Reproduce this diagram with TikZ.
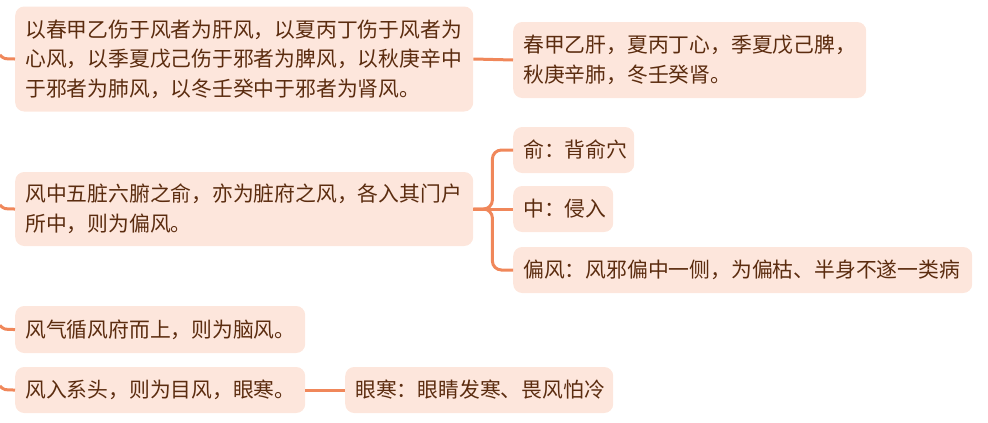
\documentclass[tikz,border=0pt]{standalone}
\usepackage{fontspec}
\setmainfont{Noto Sans CJK SC}
\definecolor{boxfill}{HTML}{FDE6DC}
\definecolor{txt}{HTML}{5B2C0F}
\definecolor{linec}{HTML}{F0875A}
\tikzset{
  box/.style={draw=none, fill=boxfill, rounded corners=9pt, text=txt,
    font=\fontsize{20.8}{29}\selectfont, align=left, inner xsep=10pt, inner ysep=0pt, anchor=west,
    execute at begin node={\baselineskip=29.5pt\lineskiplimit=-40pt\lineskip=0pt}},
  link/.style={draw=linec, line width=3pt, rounded corners=9pt},
  stub/.style={draw=linec, line width=3pt}
}
\begin{document}
\begin{tikzpicture}[x=1pt,y=-1pt]
\useasboundingbox (0,0) rectangle (988,423);
% boxes
\node[box, minimum height=105pt, text width=438pt] (A) at (15,59)
  {以春甲乙伤于风者为肝风，以夏丙丁伤于风者为\\心风，以季夏戊己伤于邪者为脾风，以秋庚辛中\\于邪者为肺风，以冬壬癸中于邪者为肾风。};
\node[box, minimum height=76pt, text width=333pt] (B) at (513,60)
  {春甲乙肝，夏丙丁心，季夏戊己脾，\\秋庚辛肺，冬壬癸肾。};
\node[box, minimum height=74pt, text width=438pt] (C) at (15,209)
  {风中五脏六腑之俞，亦为脏府之风，各入其门户\\所中，则为偏风。};
\node[box, minimum height=46pt, text width=101pt] (D) at (513,150)
  {俞：背俞穴};
\node[box, minimum height=46pt, text width=80pt] (E) at (513,209)
  {中：侵入};
\node[box, minimum height=46pt, text width=439pt] (F) at (513,270)
  {偏风：风邪偏中一侧，为偏枯、半身不遂一类病};
\node[box, minimum height=47pt, text width=270pt] (G) at (15,329.5)
  {风气循风府而上，则为脑风。};
\node[box, minimum height=46pt, text width=270pt] (H) at (15,390)
  {风入系头，则为目风，眼寒。};
\node[box, minimum height=46pt, text width=248pt] (I) at (345,390)
  {眼寒：眼睛发寒、畏风怕冷};
% connectors
\draw[link] (A.east) -- (B.west);
\draw[link] (C.east) -- ++(19,0) |- (D.west);
\draw[link] (C.east) -- (E.west);
\draw[link] (C.east) -- ++(19,0) |- (F.west);
\draw[link] (H.east) -- (I.west);
% stubs from off-picture parent
\coordinate (sA) at (0,55);
\coordinate (sC) at (0,205);
\coordinate (sG) at (0,325.5);
\coordinate (sH) at (0,386);
\draw[stub] (sA) .. controls (4,59) .. (A.west);
\draw[stub] (sC) .. controls (4,209) .. (C.west);
\draw[stub] (sG) .. controls (4,329.5) .. (G.west);
\draw[stub] (sH) .. controls (4,390) .. (H.west);
\end{tikzpicture}
\end{document}
